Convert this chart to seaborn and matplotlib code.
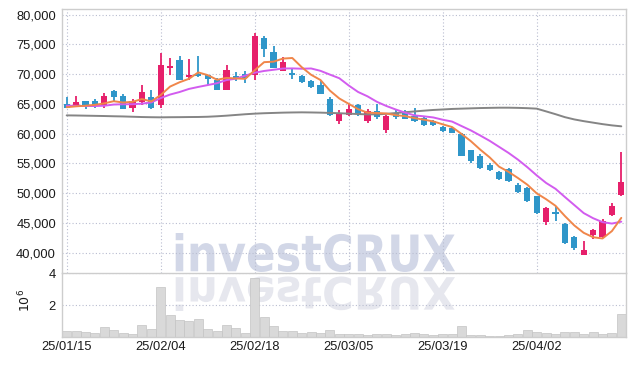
import numpy as np
import pandas as pd
import matplotlib
matplotlib.use("Agg")
import matplotlib.pyplot as plt
import seaborn as sns
from matplotlib.textpath import TextPath
from matplotlib.patches import PathPatch
from matplotlib.font_manager import FontProperties
from matplotlib.transforms import Affine2D

# ---------------- data ----------------
dates = [
    "25/01/15", "25/01/16", "25/01/17", "25/01/20", "25/01/21", "25/01/22", "25/01/23", "25/01/24",
    "25/01/31", "25/02/03", "25/02/04", "25/02/05", "25/02/06", "25/02/07", "25/02/10", "25/02/11",
    "25/02/12", "25/02/13", "25/02/14", "25/02/17", "25/02/18", "25/02/19", "25/02/20", "25/02/21",
    "25/02/24", "25/02/25", "25/02/26", "25/02/27", "25/02/28", "25/03/04", "25/03/05", "25/03/06",
    "25/03/07", "25/03/10", "25/03/11", "25/03/12", "25/03/13", "25/03/14", "25/03/17", "25/03/18",
    "25/03/19", "25/03/20", "25/03/21", "25/03/24", "25/03/25", "25/03/26", "25/03/27", "25/03/28",
    "25/03/31", "25/04/01", "25/04/02", "25/04/03", "25/04/04", "25/04/07", "25/04/08", "25/04/09",
    "25/04/10", "25/04/11", "25/04/14", "25/04/15",
]
open_ = [65000, 64900, 65500, 65500, 64900, 67200, 66400, 64300, 65400, 66100,
         64800, 71000, 72300, 69500, 70100, 69800, 69000, 67400, 69700, 70000,
         69900, 76000, 73700, 70600, 70200, 69700, 68900, 68200, 65900, 62100,
         63100, 64900, 62200, 63800, 60600, 63400, 63600, 62900, 62700, 62200,
         61200, 61000, 60000, 57200, 56200, 54800, 53600, 54000, 51400, 50800,
         49500, 45100, 46800, 44900, 42700, 39650, 43000, 42700, 46300, 49700]
high = [66200, 66400, 65550, 65800, 66800, 67400, 66700, 65900, 68100, 67400,
        73500, 72700, 73100, 72600, 73100, 69900, 69300, 71500, 70400, 70600,
        77000, 76400, 74800, 72900, 71000, 69800, 69000, 68800, 66100, 63900,
        65000, 65000, 64200, 65000, 63200, 63900, 64000, 64300, 62800, 62300,
        61300, 61200, 60100, 57300, 56600, 55000, 53700, 54300, 51700, 51100,
        49600, 47700, 47800, 45000, 42800, 41900, 44000, 45600, 48400, 57000]
low = [64300, 64600, 64200, 64300, 64400, 65500, 64100, 63650, 64900, 64200,
       64300, 69800, 69000, 69000, 69600, 68100, 67300, 67300, 68800, 68500,
       69100, 72900, 71000, 70600, 69200, 68500, 67700, 66600, 63000, 61600,
       63000, 63000, 61800, 62500, 60100, 62500, 62400, 62000, 61350, 61300,
       60300, 60100, 56200, 55100, 54000, 53800, 52200, 51900, 50100, 48600,
       46450, 44700, 45400, 41500, 40400, 39600, 42300, 42550, 46100, 49500]
close = [64300, 65300, 64900, 64700, 66300, 66100, 64200, 65500, 67000, 64300,
         71500, 71300, 69100, 69900, 69700, 69200, 67400, 70700, 69400, 69400,
         76400, 74200, 71100, 72000, 69900, 68700, 67800, 66700, 63100, 63300,
         64200, 63300, 63800, 62800, 62900, 62800, 62500, 62100, 61500, 61400,
         60400, 60200, 56300, 55400, 54300, 53900, 52400, 52000, 50200, 48700,
         46600, 47500, 46450, 41600, 40800, 40400, 43800, 45400, 47800, 51900]
ma5 = [64450, 64600, 64700, 64850, 65100, 65460, 65240, 65360, 65820, 65420,
       66500, 67920, 68640, 69220, 70300, 69840, 69060, 69380, 69280, 69220,
       70660, 72020, 72100, 72620, 72720, 71180, 69900, 69020, 67240, 65920,
       65020, 64120, 63540, 63480, 63400, 63120, 62960, 62620, 62360, 62060,
       61580, 61120, 59960, 58740, 57320, 56020, 54460, 53600, 52560, 51440,
       49980, 49000, 47890, 46170, 44590, 43350, 42610, 42400, 43640, 45860]
ma10 = [64700, 64680, 64650, 64650, 64700, 64900, 64950, 64950, 65050, 65260,
        65980, 66580, 67000, 67520, 67860, 68170, 68490, 69010, 69250, 69760,
        70250, 70540, 70740, 70950, 70970, 70920, 70960, 70560, 69930, 69320,
        68100, 67010, 66280, 65360, 64660, 64070, 63540, 63080, 62920, 62730,
        62350, 62040, 61290, 60550, 59690, 58800, 57790, 56780, 55650, 54380,
        53000, 51730, 50745, 49365, 48015, 46665, 45805, 45145, 44905, 45225]
ma_long = [63080, 63060, 63030, 63000, 62970, 62930, 62900, 62850, 62800, 62770,
           62750, 62770, 62780, 62800, 62810, 62850, 62930, 63030, 63150, 63270,
           63370, 63440, 63490, 63540, 63570, 63590, 63570, 63540, 63490, 63440,
           63370, 63300, 63250, 63250, 63340, 63470, 63610, 63740, 63870, 63990,
           64070, 64160, 64210, 64260, 64310, 64340, 64370, 64370, 64340, 64290,
           64210, 63750, 63280, 62780, 62400, 62110, 61860, 61610, 61400, 61240]
volume_m = [0.40, 0.40, 0.33, 0.27, 0.62, 0.46, 0.27, 0.19, 0.75, 0.52,
            3.12, 1.39, 1.08, 1.02, 1.12, 0.52, 0.40, 0.75, 0.56, 0.27,
            3.71, 1.25, 0.71, 0.40, 0.40, 0.27, 0.31, 0.29, 0.44, 0.19,
            0.19, 0.19, 0.12, 0.19, 0.19, 0.12, 0.23, 0.27, 0.19, 0.15,
            0.19, 0.19, 0.69, 0.12, 0.12, 0.06, 0.06, 0.12, 0.19, 0.44,
            0.35, 0.27, 0.19, 0.31, 0.31, 0.19, 0.31, 0.19, 0.25, 1.46]
price_ticks = [40000, 45000, 50000, 55000, 60000, 65000, 70000, 75000, 80000]
volume_ticks = [2, 4]
volume_unit = r"$10^6$"
watermark = "investCRUX"

# ---------------- style ----------------
sns.set_style("white")
plt.rcParams["font.family"] = ["Liberation Sans", "DejaVu Sans"]

UP = "#e6206b"
DOWN = "#2f96c9"
GRID = "#b9bdd0"
SPINE = "#cdcdcd"
TXT = "#1a1a1a"

df = pd.DataFrame({"i": np.arange(len(dates)), "date": dates, "open": open_, "high": high,
                   "low": low, "close": close, "ma5": ma5, "ma10": ma10, "ma_long": ma_long,
                   "vol": volume_m})

W, H = 635, 366
fig = plt.figure(figsize=(W / 100, H / 100), dpi=100)
fig.patch.set_facecolor("white")
L, R = 62, 626
ax = fig.add_axes([L / W, 1 - 273 / H, (R - L) / W, (273 - 9) / H])
axv = fig.add_axes([L / W, 1 - 337.3 / H, (R - L) / W, (337.3 - 273) / H])

xt = list(range(0, len(dates), 10))
for a in (ax, axv):
    a.set_facecolor("none")
    a.set_xlim(-0.5, len(dates) - 0.5)
    a.set_xticks(xt)
    a.grid(True, color=GRID, linestyle=(0, (1, 2)), linewidth=0.8)
    a.set_axisbelow(True)
    for s in a.spines.values():
        s.set_color(SPINE)
        s.set_linewidth(1.0)
    a.tick_params(length=0, colors=TXT, labelsize=9.3)

# candles
up = df["close"] >= df["open"]
cols = np.where(up, UP, DOWN)
ax.vlines(df["i"], df["low"], df["high"], colors=cols, linewidth=1.3, zorder=2)
body = np.maximum((df["close"] - df["open"]).abs(), 130)
ax.bar(df["i"], body, bottom=np.minimum(df["open"], df["close"]), width=0.68,
       color=cols, linewidth=0, zorder=3)

# moving averages
sns.lineplot(data=df, x="i", y="ma_long", ax=ax, color="#858585", linewidth=1.4, zorder=4, legend=False)
sns.lineplot(data=df, x="i", y="ma10", ax=ax, color="#d25cef", linewidth=1.4, zorder=5, legend=False)
sns.lineplot(data=df, x="i", y="ma5", ax=ax, color="#f0864a", linewidth=1.4, zorder=6, legend=False)

ax.set_ylim(36600, 80950)
ax.set_yticks(price_ticks)
ax.set_yticklabels([f"{v:,}" for v in price_ticks])
ax.set_xticklabels([])
ax.set_xlabel("")
ax.set_ylabel("")
ax.tick_params(axis="y", pad=4.3)
ax.spines["bottom"].set_visible(False)

# volume
sns.barplot(data=df, x="i", y="vol", ax=axv, color="#d9d9d9", saturation=1,
            width=0.96, edgecolor="#c3c3c3", linewidth=0.5, zorder=2)
axv.set_xlim(-0.5, len(dates) - 0.5)
axv.set_xticks(xt)
axv.set_xticklabels([dates[k] for k in xt], fontsize=9.3)
axv.set_ylim(0, 4.0)
axv.set_yticks(volume_ticks)
axv.set_yticklabels([str(v) for v in volume_ticks])
axv.tick_params(axis="y", pad=4.3)
axv.tick_params(axis="x", pad=3)
axv.set_xlabel("")
axv.set_ylabel(volume_unit, fontsize=9, color=TXT, rotation=90)
axv.yaxis.set_label_coords(-0.051, 0.58)

# watermark with reflection
fp = FontProperties(family="DejaVu Sans", weight="bold")
tp = TextPath((0, 0), watermark, size=50, prop=fp)
ext = tp.get_extents()
sx = (455 - 175.7) / ext.width
sy = (272 - 233) / ext.height
t_main = Affine2D().translate(-ext.x0, -ext.y0).scale(sx, sy).translate(175.7, H - 272)
fig.add_artist(PathPatch(tp, transform=t_main, facecolor="#d2d7e7", linewidth=0, zorder=-1))
sy2 = (311 - 276.5) / ext.height
t_ref = Affine2D().translate(-ext.x0, -ext.y0).scale(sx, -sy2).translate(175.7, H - 276.5)
fig.add_artist(PathPatch(tp, transform=t_ref, facecolor="#e6e7ee", linewidth=0, zorder=-1))

fig.savefig("out.png", dpi=100, facecolor="white")
